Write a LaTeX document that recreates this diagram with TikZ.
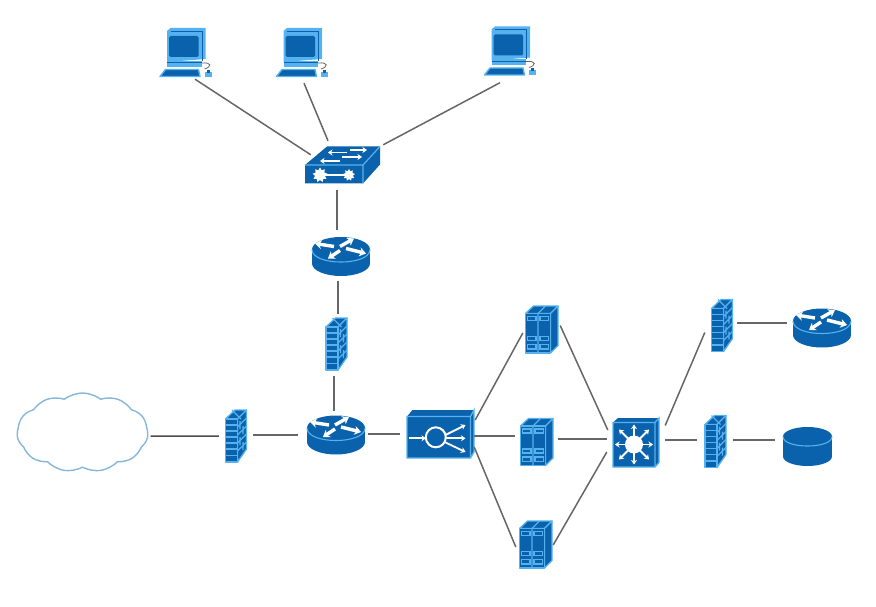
\documentclass[tikz,border=0pt]{standalone}
\usepackage{xcolor}
\definecolor{netdark}{HTML}{0B62AC}
\definecolor{netlight}{HTML}{55B2EE}
\definecolor{netcloud}{HTML}{86B6DC}
\definecolor{wire}{HTML}{666666}
\usetikzlibrary{arrows.meta,shapes.symbols,shapes.geometric}
\tikzset{
  wr/.style={white,line width=3.4pt,-{Stealth[length=6.5pt,width=9pt]}},
  wrs/.style={white,line width=1.8pt,-{Stealth[length=4.5pt,width=6pt]}},
  face/.style={fill=netdark,draw=netlight,line width=1.3pt,line join=round},
  slot/.style={fill=netdark,draw=netlight,line width=1.1pt},
  routerbox/.style={inner sep=0pt,minimum width=58pt,minimum height=39pt},
  fwbox/.style={inner sep=0pt,minimum width=22pt,minimum height=52pt},
  srvbox/.style={inner sep=0pt,minimum width=33pt,minimum height=47pt},
  pcbox/.style={inner sep=0pt,minimum width=55pt,minimum height=50pt},
  link/.style={wire,line width=1.5pt},
  pics/router/.style={code={
    \fill[netdark] (-29,-7) rectangle (29,7);
    \fill[netdark] (0,7) ellipse [x radius=29,y radius=12.5];
    \fill[netdark] (0,-7) ellipse [x radius=29,y radius=12.5];
    \draw[netlight,line width=1.1pt] (-29,-7) .. controls (-29,9.7) and (29,9.7) .. (29,-7);
    \draw[wr] (-7,-10) -- (-26,-13);
    \draw[wr] (-1,-6) -- (-13,2);
    \draw[wr] (-1,-10) -- (13,-18);
    \draw[wr] (5,-8) -- (25,-3);
  }},
  pics/disk/.style={code={
    \fill[netdark] (-24.5,-10) rectangle (24.5,10);
    \fill[netdark] (0,10) ellipse [x radius=24.5,y radius=9.5];
    \fill[netdark] (0,-10) ellipse [x radius=24.5,y radius=9.5];
    \draw[netlight,line width=1.1pt] (-24.5,-10) .. controls (-24.5,2.7) and (24.5,2.7) .. (24.5,-10);
  }},
  pics/firewall/.style={code={
    \draw[face] (-10.5,-17) -- (1.5,-17) -- (10.5,-26) -- (-1,-26) -- cycle;
    \draw[face] (1.5,-17) -- (10.5,-26) -- (10.5,13) -- (1.5,26) -- cycle;
    \draw[face] (-10.5,-17) rectangle (1.5,26);
    \draw[netlight,line width=1.4pt] (-10.5,-11) -- (1.5,-11) (-10.5,-5) -- (1.5,-5) (-10.5,1) -- (1.5,1)
      (-10.5,7) -- (1.5,7) (-10.5,13) -- (1.5,13) (-10.5,19.5) -- (1.5,19.5);
    \draw[netlight,line width=1.4pt] (1.5,-9) -- (10.5,-18) (1.5,-1) -- (10.5,-10) (1.5,7) -- (10.5,-2)
      (1.5,15) -- (10.5,6) (4,-15) -- (4,-7) (7,-10) -- (7,-2) (4,1) -- (4,9) (7,6) -- (7,14);
    \draw[netlight,line width=1.4pt] (-4,-26) -- (5,-17);
  }},
  pics/server/.style={code={
    \draw[face] (-16,-16) -- (9,-16) -- (16.5,-23.5) -- (-8,-23.5) -- cycle;
    \draw[face] (9,-16) -- (16.5,-23.5) -- (16.5,16) -- (9,23.5) -- cycle;
    \draw[face] (-16,-16) rectangle (9,23.5);
    \draw[netlight,line width=1.3pt] (-3.5,-16) -- (-3.5,23.5) (-3.5,-16) -- (4,-23.5);
    \draw[slot] (-14,-13) rectangle (-5.5,-9);
    \draw[slot] (-1.5,-13) rectangle (7,-9);
    \draw[slot] (-14,7) rectangle (-5.5,11);
    \draw[slot] (-1.5,7) rectangle (7,11);
    \draw[slot] (-14,15) rectangle (-5.5,19.5);
    \draw[slot] (-1.5,15) rectangle (7,19.5);
  }},
  pics/loadbal/.style={code={
    \fill[netdark] (-33.5,-17.5) -- (-28,-24) -- (33.5,-24) -- (33.5,18) -- (30,24) -- (-33.5,24) -- cycle;
    \draw[netlight,line width=1.3pt] (-33.5,-17.5) -- (30,-17.5) -- (30,24) -- (-33.5,24) -- cycle
      (30,-17.5) -- (33.5,-24) -- (33.5,18) -- (30,24);
    \draw[wrs] (-32,4.3) -- (-14.5,4.3);
    \draw[white,line width=2pt] (-4.7,3.3) circle [radius=10];
    \draw[wrs] (5,1) -- (25,-9);
    \draw[wrs] (5.5,4.3) -- (25,4.3);
    \draw[wrs] (4,8) -- (25,18);
  }},
  pics/coreswitch/.style={code={
    \fill[netdark] (-23,-20) -- (-18,-24.5) -- (23,-24.5) -- (23,20) -- (19,24.5) -- (-23,24.5) -- cycle;
    \draw[netlight,line width=1.3pt] (-23,-20) -- (19,-20) -- (19,24.5) -- (-23,24.5) -- cycle
      (19,-20) -- (23,-24.5) -- (23,20) -- (19,24.5);
    \fill[white] (-2,2) circle [radius=9];
    \draw[wrs] (-2,-6) -- (-2,-18);
    \draw[wrs] (-2,10) -- (-2,22);
    \draw[wrs] (-10,2) -- (-21,2);
    \draw[wrs] (6,2) -- (17,2);
    \draw[wrs] (4,-4) -- (13,-13);
    \draw[wrs] (-8,-4) -- (-17,-13);
    \draw[wrs] (4,8) -- (13,17);
    \draw[wrs] (-8,8) -- (-17,17);
  }},
  pics/pc/.style={code={
    \fill[netlight] (-17,-25) -- (18,-25) -- (18,6) -- (-20.5,9) -- (-20.5,-22) -- cycle;
    \draw[netdark,line width=.5pt] (14.5,-22) -- (14.5,8) (-17,-22) -- (14.5,-22);
    \fill[netdark,rounded corners=1.5pt] (-18.5,-17) rectangle (11,4);
    \fill[netlight] (-20.5,8) rectangle (14,14);
    \draw[netdark,line width=.5pt] (-20.5,9.5) -- (14,9.5);
    \draw[wire,line width=.8pt] (14,10) .. controls (25,9) and (24,14) .. (17,16);
    \draw[fill=netdark,draw=netlight,line width=1.4pt,line join=round] (-22,16.5) -- (11,16.5) -- (12.5,23.5) -- (-27.5,23.5) -- cycle;
    \fill[netlight] (17,19) rectangle (24,24);
    \fill[netdark] (19,17) rectangle (22,20);
  }},
  pics/hub/.style={code={
    \fill[netdark] (-38,0.5) -- (-16,-18) -- (37,-18) -- (37,0) -- (20,19) -- (-38,19) -- cycle;
    \draw[netlight,line width=1.2pt] (-38,0.5) -- (20,0.5) -- (37,-18) (20,0.5) -- (20,19);
    \draw[wrs] (7,-14.5) -- (24,-14.5);
    \draw[wrs] (4,-12) -- (-15,-12);
    \draw[wrs] (-1,-7.5) -- (19,-7.5);
    \draw[wrs] (-3,-3.5) -- (-23,-3.5);
    \draw[white,line width=1.6pt] (-23,10.5) -- (6,10.5);
    \node[star,fill=white,inner sep=0pt,minimum size=15pt,star points=9] at (-23,10.5) {};
    \node[star,fill=white,inner sep=0pt,minimum size=12pt,star points=9] at (6,10.5) {};
  }},
}
\begin{document}
\begin{tikzpicture}[x=1pt,y=-1pt]
  \useasboundingbox (0,0) rectangle (876,607);
  % hosts and access switch
  \node[pcbox] (pc1) at (187.5,53) {}; \pic at (pc1) {pc};
  \node[pcbox] (pc2) at (304,53) {}; \pic at (pc2) {pc};
  \node[pcbox] (pc3) at (512,51.5) {}; \pic at (pc3) {pc};
  \node[inner sep=0pt,minimum width=76pt,minimum height=39pt] (sw) at (343,164.5) {}; \pic at (sw) {hub};
  % routers and firewalls
  \node[routerbox] (r1) at (341,256.5) {}; \pic at (r1) {router};
  \node[fwbox] (fw1) at (336.5,344) {}; \pic at (fw1) {firewall};
  \node[routerbox] (r2) at (336,435) {}; \pic at (r2) {router};
  \node[cloud,draw=netcloud,line width=1.4pt,cloud puffs=11,cloud puff arc=75,aspect=1.7,inner sep=0pt,minimum width=131pt,minimum height=79pt] (net) at (82.5,432.5) {};
  \node[fwbox] (fw2) at (236,436) {}; \pic at (fw2) {firewall};
  % server farm
  \node[inner sep=0pt,minimum width=67pt,minimum height=48pt] (lb) at (440.5,434) {}; \pic at (lb) {loadbal};
  \node[srvbox] (s1) at (541.5,329.5) {}; \pic at (s1) {server};
  \node[srvbox] (s2) at (536.5,442) {}; \pic at (s2) {server};
  \node[srvbox] (s3) at (535.5,544.5) {}; \pic at (s3) {server};
  \node[inner sep=0pt,minimum width=46pt,minimum height=49pt] (core) at (636,442.5) {}; \pic at (core) {coreswitch};
  \node[fwbox] (fw3) at (722,325.5) {}; \pic at (fw3) {firewall};
  \node[fwbox] (fw4) at (715.5,441.5) {}; \pic at (fw4) {firewall};
  \node[routerbox] (r3) at (822,328) {}; \pic at (r3) {router};
  \node[inner sep=0pt,minimum width=49pt,minimum height=39pt] (dsk) at (807.5,446.5) {}; \pic at (dsk) {disk};
  % links
  \draw[link] ([shift={(7.5,1)}]pc1.south) -- ([shift={(6,10)}]sw.north west);
  \draw[link] ([shift={(0,5)}]pc2.south) -- ([shift={(-15,-4)}]sw.north);
  \draw[link] ([shift={(-12,6)}]pc3.south) -- ([shift={(2,0)}]sw.north east);
  \draw[link] ([shift={(-6,6)}]sw.south) -- ([shift={(-4,-7)}]r1.north);
  \draw[link] ([shift={(-3,5)}]r1.south) -- ([shift={(1.5,-4)}]fw1.north);
  \draw[link] ([shift={(-2.5,6)}]fw1.south) -- ([shift={(-2,-4)}]r2.north);
  \draw[link,black!70] ([shift={(2,3.5)}]net.east) -- ([shift={(-6,0)}]fw2.west);
  \draw[link] ([shift={(6,-1)}]fw2.east) -- ([shift={(-9,0)}]r2.west);
  \draw[link] ([shift={(3,-1)}]r2.east) -- ([shift={(-7,0)}]lb.west);
  \draw[link] ([shift={(1,-14)}]lb.east) -- ([shift={(-2,3.5)}]s1.west);
  \draw[link] ([shift={(0,2)}]lb.east) -- ([shift={(-5,-6)}]s2.west);
  \draw[link] ([shift={(0,13)}]lb.east) -- ([shift={(-3,2.5)}]s3.west);
  \draw[link] ([shift={(2,-4)}]s1.east) -- ([shift={(-5,-12.5)}]core.west);
  \draw[link] ([shift={(5,-3)}]s2.east) -- ([shift={(-6,-3.5)}]core.west);
  \draw[link] ([shift={(1,.5)}]s3.east) -- ([shift={(-6,9.5)}]core.west);
  \draw[link] ([shift={(6,-17)}]core.east) -- ([shift={(-6,7)}]fw3.west);
  \draw[link] ([shift={(6,-2.5)}]core.east) -- ([shift={(-7,-1.5)}]fw4.west);
  \draw[link] ([shift={(6,-1.5)}]fw4.east) -- ([shift={(-8,-6.5)}]dsk.west);
  \draw[link] ([shift={(4,-2.5)}]fw3.east) -- ([shift={(-6,-5)}]r3.west);
\end{tikzpicture}
\end{document}
